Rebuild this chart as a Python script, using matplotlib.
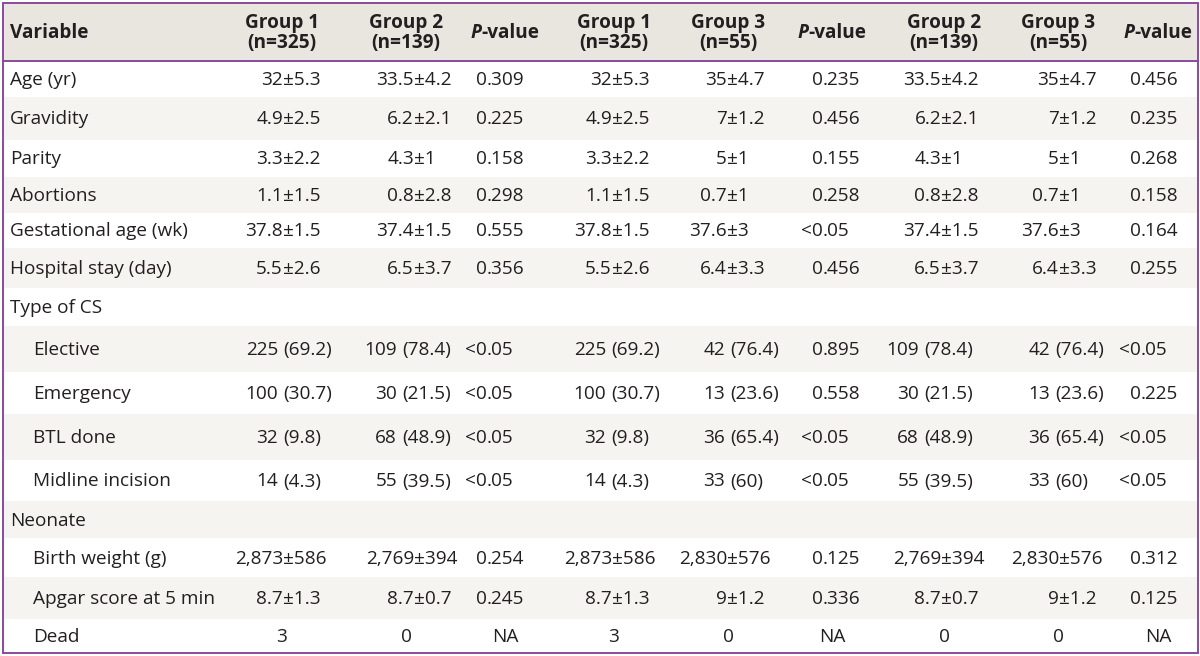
import matplotlib
matplotlib.use("Agg")
import matplotlib.pyplot as plt
from matplotlib.patches import Rectangle

# ---------------- data ----------------
variables = ["Age (yr)", "Gravidity", "Parity", "Abortions", "Gestational age (wk)",
             "Hospital stay (day)", "Type of CS", "Elective", "Emergency", "BTL done",
             "Midline incision", "Neonate", "Birth weight (g)", "Apgar score at 5 min", "Dead"]
indent = [0, 0, 0, 0, 0, 0, 0, 1, 1, 1, 1, 0, 1, 1, 1]

headers = ["Variable", "Group 1\n(n=325)", "Group 2\n(n=139)", "P-value",
           "Group 1\n(n=325)", "Group 3\n(n=55)", "P-value",
           "Group 2\n(n=139)", "Group 3\n(n=55)", "P-value"]

group1 = ["32±5.3", "4.9±2.5", "3.3±2.2", "1.1±1.5", "37.8±1.5", "5.5±2.6", "",
          "225 (69.2)", "100 (30.7)", "32 (9.8)", "14 (4.3)", "",
          "2,873±586", "8.7±1.3", "3"]
group2 = ["33.5±4.2", "6.2±2.1", "4.3±1", "0.8±2.8", "37.4±1.5", "6.5±3.7", "",
          "109 (78.4)", "30 (21.5)", "68 (48.9)", "55 (39.5)", "",
          "2,769±394", "8.7±0.7", "0"]
group3 = ["35±4.7", "7±1.2", "5±1", "0.7±1", "37.6±3", "6.4±3.3", "",
          "42 (76.4)", "13 (23.6)", "36 (65.4)", "33 (60)", "",
          "2,830±576", "9±1.2", "0"]
p_1vs2 = ["0.309", "0.225", "0.158", "0.298", "0.555", "0.356", "",
          "<0.05", "<0.05", "<0.05", "<0.05", "",
          "0.254", "0.245", "NA"]
p_1vs3 = ["0.235", "0.456", "0.155", "0.258", "<0.05", "0.456", "",
          "0.895", "0.558", "<0.05", "<0.05", "",
          "0.125", "0.336", "NA"]
p_2vs3 = ["0.456", "0.235", "0.268", "0.158", "0.164", "0.255", "",
          "<0.05", "0.225", "<0.05", "<0.05", "",
          "0.312", "0.125", "NA"]

columns = [group1, group2, p_1vs2, group1, group3, p_1vs3, group2, group3, p_2vs3]

# ---------------- layout / style ----------------
W, H = 1200, 656
FONT = "Open Sans"
FS = 13.7
TXT = "#231f20"
BORDER = "#8b4a9c"
HEAD_BG = "#e9e5df"
ALT_BG = "#f6f4f0"

row_bounds = [61, 97, 140, 177, 213, 248, 288, 326, 372, 414, 460, 501, 538, 577, 619, 653]
top = 3
left_x, right_x = 2.5, 1197.5

col_center = [282, 406, 505, 614, 728, 832, 944, 1058, 1158]
pm_anchor = [283, 414, None, 612, 727, None, 941, 1059, None]
paren_anchor = [283, 402, None, 611, 730, None, 924, 1055, None]
dot_anchor = [None, None, 487, None, None, 823, None, None, 1141]

fig = plt.figure(figsize=(W / 100, H / 100), dpi=100)
ax = fig.add_axes([0, 0, 1, 1])
ax.set_xlim(0, W)
ax.set_ylim(H, 0)
ax.axis("off")

# backgrounds
ax.add_patch(Rectangle((left_x, top), right_x - left_x, row_bounds[0] - top,
                       facecolor=HEAD_BG, edgecolor="none", zorder=0))
for i in range(len(variables)):
    y0, y1 = row_bounds[i], row_bounds[i + 1]
    ax.add_patch(Rectangle((left_x, y0), right_x - left_x, y1 - y0,
                           facecolor=(ALT_BG if i % 2 == 1 else "white"),
                           edgecolor="none", zorder=0))

# borders
ax.add_patch(Rectangle((left_x, top), right_x - left_x, row_bounds[-1] - top,
                       facecolor="none", edgecolor=BORDER, lw=1.4, zorder=3))
ax.plot([left_x, right_x], [row_bounds[0], row_bounds[0]], color=BORDER, lw=1.4, zorder=3)

fig.canvas.draw()
renderer = fig.canvas.get_renderer()


def text_width(s, **kw):
    t = ax.text(0, 0, s, fontsize=FS, family=FONT, **kw)
    bb = t.get_window_extent(renderer=renderer)
    t.remove()
    return bb.width


space_w = text_width("a a") - text_width("aa")

# header
hy = (top + row_bounds[0]) / 2 + 1
ax.text(10, hy, headers[0], fontsize=FS, family=FONT, fontweight="bold",
        color=TXT, ha="left", va="center")
for j, h in enumerate(headers[1:]):
    cx = col_center[j]
    if h == "P-value":
        wp = text_width("P", fontweight="bold", fontstyle="italic")
        wr = text_width("-value", fontweight="bold")
        x0 = cx - (wp + wr) / 2
        ax.text(x0, hy, "P", fontsize=FS, family=FONT, fontweight="bold",
                fontstyle="italic", color=TXT, ha="left", va="center")
        ax.text(x0 + wp, hy, "-value", fontsize=FS, family=FONT, fontweight="bold",
                color=TXT, ha="left", va="center")
    else:
        ax.text(cx, hy, h, fontsize=FS, family=FONT, fontweight="bold",
                color=TXT, ha="center", va="center", linespacing=1.0,
                multialignment="center")

# body
for i, var in enumerate(variables):
    yc = (row_bounds[i] + row_bounds[i + 1]) / 2 + 1
    ax.text(10 + 23 * indent[i], yc, var, fontsize=FS, family=FONT, color=TXT,
            ha="left", va="center")
    for j, col in enumerate(columns):
        s = col[i]
        if not s:
            continue
        kw = dict(fontsize=FS, family=FONT, color=TXT, va="center")
        if "±" in s and pm_anchor[j] is not None:
            k = s.index("±")
            ax.text(pm_anchor[j], yc, s[:k], ha="right", **kw)
            ax.text(pm_anchor[j], yc, s[k:], ha="left", **kw)
        elif "(" in s and paren_anchor[j] is not None:
            k = s.index("(")
            ax.text(paren_anchor[j] - space_w, yc, s[:k].strip(), ha="right", **kw)
            ax.text(paren_anchor[j], yc, s[k:], ha="left", **kw)
        elif "." in s and dot_anchor[j] is not None:
            k = s.index(".")
            ax.text(dot_anchor[j], yc, s[:k], ha="right", **kw)
            ax.text(dot_anchor[j], yc, s[k:], ha="left", **kw)
        else:
            ax.text(col_center[j], yc, s, ha="center", **kw)

fig.savefig("out.png", dpi=100)
